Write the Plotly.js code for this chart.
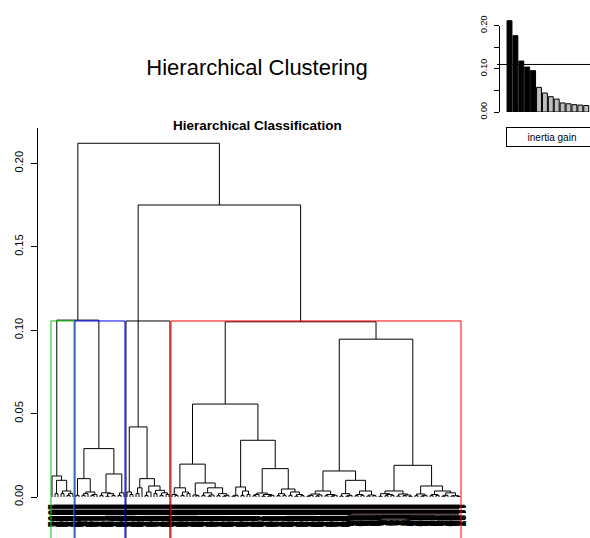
<!DOCTYPE html>
<html><head><meta charset="utf-8">
<script src="https://cdn.plot.ly/plotly-3.0.1.min.js"></script>
<style>html,body{margin:0;padding:0;background:#fff}#chart{width:590px;height:538px}</style>
</head><body><div id="chart"></div>
<script>
// ---------------- DATA ----------------
// Dendrogram sub-trees: "(a,b)h" = merge of a and b at height h, "o" = one individual
const greenCluster = "(o,((o,o)0.002,((o,o)0.002,((o,o)0.001,o)0.002)0.0036)0.010)0.0126";
const blueCluster  = "(((o,o)0.001,(((o,o)0.001,o)0.002,((o,o)0.001,o)0.0015)0.003)0.011,(((o,o)0.001,((o,o)0.0005,(o,o)0.001)0.002)0.0025,((o,o)0.001,o)0.0025)0.0138)0.029";
const blackCluster = "((o,(o,o)0.0015)0.003,(((o,o)0.002,o)0.0055,(((o,o)0.001,o)0.003,((o,o)0.002,((o,o)0.001,(o,o)0.0015)0.0025)0.004)0.0066)0.011)0.042";
const redA = "(((o,(o,o)0.001)0.0015,((o,o)0.001,(o,o)0.002)0.003)0.0055,((o,(o,o)0.0008)0.0012,(((o,o)0.001,((o,o)0.0005,o)0.0012)0.0025,((o,o)0.0008,((o,o)0.0005,o)0.001)0.002)0.0055)0.0084)0.0197";
const redB = "((((o,o)0.0005,o)0.001,((o,o)0.001,(o,o)0.0015)0.0036)0.006,((((o,o)0.0008,o)0.0015,((o,o)0.0005,((o,o)0.0006,o)0.001)0.0015)0.0024,(((o,o)0.0008,(o,o)0.001)0.002,((o,o)0.001,((o,o)0.0005,(o,o)0.0008)0.0015)0.003)0.0048)0.017)0.034";
const redC = "(((((o,o)0.0005,o)0.001,((o,o)0.0006,o)0.0012)0.0018,((o,o)0.0008,((o,o)0.0005,o)0.001)0.0015)0.0036,(((o,o)0.0006,((o,o)0.0005,o)0.001)0.002,(((o,o)0.0008,(o,o)0.001)0.0015,((o,o)0.0006,(o,o)0.0008)0.0012)0.0036)0.010)0.0156";
const redD = "((((o,o)0.0005,((o,o)0.0008,(o,o)0.001)0.0015)0.002,((o,o)0.0006,((o,o)0.0008,(o,o)0.0005)0.0012)0.0018)0.0036,(((o,o)0.0008,((o,o)0.0005,o)0.001)0.0018,(((o,o)0.0008,(o,o)0.001)0.0015,(((o,o)0.0005,o)0.001,((o,o)0.0006,(o,o)0.0004)0.0008)0.0025)0.0036)0.0066)0.019";
const redHeights = [0.0557, 0.0946, 0.105];      // (A,B), (C,D), whole red cluster
const upperHeights = [0.106, 0.175, 0.212];      // green+blue, black+red, root
const clusterColors = ["#00CD00", "#0000FF", "#000000", "#FF0000"];
const nbClusters = 4;

// inertia gain inset
const gainBars = [0.2113, 0.1766, 0.118, 0.104, 0.0957, 0.057, 0.044, 0.0355, 0.030, 0.021, 0.019, 0.017, 0.016, 0.015];
const gainColors = ["black","black","black","black","black","#BEBEBE","#BEBEBE","#BEBEBE","#BEBEBE","#BEBEBE","#BEBEBE","#BEBEBE","#BEBEBE","#BEBEBE"];
const gainCut = 0.110;

// ---------------- BUILD TREE ----------------
function parse(s){
  let i = 0;
  function node(){
    if (s[i] === '('){
      i++;
      const kids = [node()];
      while (s[i] === ','){ i++; kids.push(node()); }
      i++; // ')'
      const j = i;
      while (i < s.length && /[0-9.]/.test(s[i])) i++;
      return {kids: kids, h: parseFloat(s.slice(j, i))};
    }
    i++;
    return {h: 0};
  }
  return node();
}
const red = {kids: [
  {kids: [parse(redA), parse(redB)], h: redHeights[0]},
  {kids: [parse(redC), parse(redD)], h: redHeights[1]}], h: redHeights[2]};
const clusters = [parse(greenCluster), parse(blueCluster), parse(blackCluster), red];
const root = {kids: [
  {kids: [clusters[0], clusters[1]], h: upperHeights[0]},
  {kids: [clusters[2], clusters[3]], h: upperHeights[1]}], h: upperHeights[2]};

let nLeaves = 0;
function place(n){
  if (!n.kids){ n.x = nLeaves++; n.first = n.x; n.last = n.x; return; }
  n.kids.forEach(place);
  n.x = (n.kids[0].x + n.kids[n.kids.length-1].x) / 2;
  n.first = n.kids[0].first; n.last = n.kids[n.kids.length-1].last;
}
place(root);
const segX = [], segY = [], allH = [];
function seg(n){
  if (!n.kids) return;
  allH.push(n.h);
  const a = n.kids[0], b = n.kids[1];
  segX.push(a.x, a.x, b.x, b.x, null);
  segY.push(a.h, n.h, n.h, b.h, null);
  seg(a); seg(b);
}
seg(root);
allH.sort((p, q) => q - p);
const rectTop = (allH[nbClusters-2] + allH[nbClusters-1]) / 2;

// ---------------- LAYOUT CONSTANTS ----------------
const W = 590, H = 538;
const yTop = (497-128)/1668.5, yBot = -(538-497)/1668.5;
const font = "Liberation Sans, Arial, sans-serif";

const leafIdx = [], leafTxt = [];
for (let k = 0; k < nLeaves; k++){ leafIdx.push(k); leafTxt.push(String(1001 + k)); }

const traces = [];
traces.push({x: [], y: [], xaxis: 'x', yaxis: 'y', type: 'scatter', mode: 'lines', showlegend: false, hoverinfo: 'skip'});
traces.push({x: segX, y: segY, xaxis: 'x', yaxis: 'y2', type: 'scatter', mode: 'lines',
  line: {color: '#000', width: 1}, showlegend: false, hoverinfo: 'skip'});
clusters.forEach((c, ci) => {
  const x0 = c.first - 0.34, x1 = c.last + 0.33;
  traces.push({x: [x0, x0, x1, x1], y: [yBot, rectTop, rectTop, yBot], xaxis: 'x', yaxis: 'y2',
    type: 'scatter', mode: 'lines', line: {color: clusterColors[ci], width: 1}, showlegend: false, hoverinfo: 'skip'});
});
traces.push({x: [], y: [], xaxis: 'x3', yaxis: 'y3', type: 'scatter', mode: 'lines', showlegend: false, hoverinfo: 'skip'});
traces.push({x: gainBars.map((v, k) => k + 1), y: gainBars, xaxis: 'x3', yaxis: 'y4', type: 'bar',
  width: 1/1.2, marker: {color: gainColors, line: {color: '#000', width: 1}}, showlegend: false, hoverinfo: 'skip'});

const layout = {
  width: W, height: H,
  margin: {l: 0, r: 0, t: 0, b: 0},
  paper_bgcolor: '#fff', plot_bgcolor: 'rgba(0,0,0,0)',
  font: {family: font, color: '#000'},
  showlegend: false,
  title: {text: 'Hierarchical Clustering', x: 257/W, xanchor: 'center', y: 1 - 67/H, yanchor: 'middle',
    font: {size: 22, family: font, color: '#000'}},
  xaxis: {domain: [0, 490/W], range: [-52/3, (490-52)/3], anchor: 'y', showgrid: false, zeroline: false,
    showline: false, ticks: '', tickmode: 'array', tickvals: leafIdx, ticktext: leafTxt, tickangle: 90,
    tickfont: {size: 10.3, family: font, color: '#000', weight: 'bold',
      shadow: '0 1px 0 #000, 0 -1px 0 #000'}, ticklabelstandoff: 6},
  yaxis: {domain: [1 - 497/H, 1 - 128/H], range: [0, yTop], anchor: 'free', position: 37/W,
    showgrid: false, zeroline: false, showline: true, linecolor: '#000', linewidth: 1,
    ticks: 'outside', ticklen: 6, tickcolor: '#000', tickwidth: 1,
    tickmode: 'array', tickvals: [0, 0.05, 0.10, 0.15, 0.20], ticktext: ['0.00','0.05','0.10','0.15','0.20'],
    tickangle: -90, tickfont: {size: 11, family: font, color: '#000'}, ticklabelstandoff: 4},
  yaxis2: {domain: [0, 1 - 128/H], range: [yBot, yTop], anchor: 'x', visible: false},
  xaxis3: {domain: [497/W, 1], range: [-1.119, 14.64], anchor: 'y4', visible: false},
  yaxis3: {domain: [1 - 112/H, 1 - 25.6/H], range: [0, 0.2], anchor: 'free', position: 499/W,
    showgrid: false, zeroline: false, showline: true, linecolor: '#000', linewidth: 1,
    ticks: 'outside', ticklen: 5, tickcolor: '#000', tickwidth: 1,
    tickmode: 'array', tickvals: [0, 0.05, 0.10, 0.15, 0.20], ticktext: ['0.00','','0.10','','0.20'],
    tickangle: -90, tickfont: {size: 9, family: font, color: '#000'}, ticklabelstandoff: 3},
  yaxis4: {domain: [1 - 112/H, 1 - 10/H], range: [0, 102/432], anchor: 'x3', visible: false},
  shapes: [{type: 'line', xref: 'x3 domain', yref: 'y4', x0: 0, x1: 1, y0: gainCut, y1: gainCut,
    line: {color: '#000', width: 1}}],
  annotations: [
    {text: '<b>Hierarchical Classification</b>', xref: 'paper', yref: 'paper', x: 257/W, y: 1 - 125/H,
      xanchor: 'center', yanchor: 'middle', showarrow: false, font: {size: 13.5, family: font, color: '#000'}},
    {text: 'inertia gain', xref: 'paper', yref: 'paper', x: 506/W, y: 1 - 127/H, xanchor: 'left', yanchor: 'top',
      showarrow: false, width: 88, height: 16, borderpad: 1, bordercolor: '#000', borderwidth: 1,
      font: {size: 10, family: font, color: '#000'}}
  ]
};
Plotly.newPlot('chart', traces, layout, {staticPlot: true, displayModeBar: false});
</script></body></html>
